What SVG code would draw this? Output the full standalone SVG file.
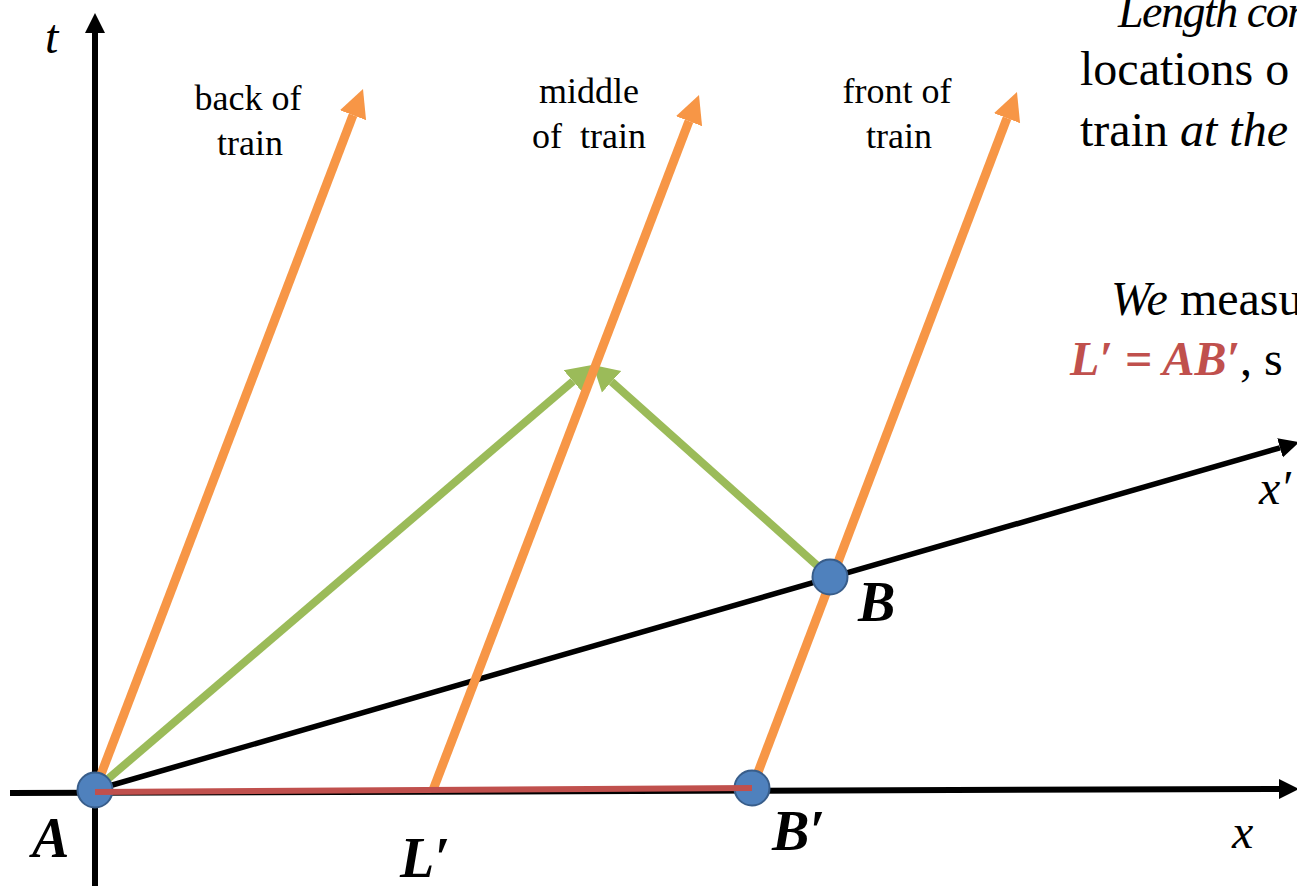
<svg xmlns="http://www.w3.org/2000/svg" width="1297" height="889" viewBox="0 0 1297 889" font-family="'Liberation Serif', 'Times New Roman', serif">
<style>
text, tspan{font-family:"Liberation Serif","Times New Roman",serif}
text{fill:#000}
.lbl{font-size:36px;text-anchor:middle}
.big{font-size:48px}
.it{font-style:italic}
.pt{font-size:56px;font-style:italic;font-weight:bold}
.red{fill:#C0504D;font-style:italic;font-weight:bold}
.axis{stroke:#000;stroke-width:6;fill:none}
.xp{stroke:#000;stroke-width:5.5;fill:none}
.wl{stroke:#F79646;stroke-width:9;fill:none}
.lt{stroke:#9BBB59;stroke-width:8;fill:none}
.len{stroke:#C0504D;stroke-width:6;fill:none}
.dot{fill:#4F81BD;stroke:#385D8A;stroke-width:2}
</style>
<defs>
<marker id="ab" markerUnits="userSpaceOnUse" markerWidth="22" markerHeight="22" viewBox="0 -11 22 22" refX="0" refY="0" orient="auto"><path d="M0,-10 L20,0 L0,10 z" fill="#000"/></marker>
<marker id="ao" markerUnits="userSpaceOnUse" markerWidth="30" markerHeight="30" viewBox="0 -15 30 30" refX="0" refY="0" orient="auto"><path d="M0,-14 L28,0 L0,14 z" fill="#F79646"/></marker>
<marker id="ag" markerUnits="userSpaceOnUse" markerWidth="27" markerHeight="31" viewBox="0 -15.5 27 31" refX="0" refY="0" orient="auto"><path d="M0,-14.5 L25,0 L0,14.5 z" fill="#9BBB59"/></marker>
</defs>
<g id="connectors">
<line id="t-axis" class="axis" x1="95" y1="886" x2="95" y2="33" marker-end="url(#ab)"/>
<line id="x-axis" class="axis" x1="10" y1="793" x2="1279" y2="789" marker-end="url(#ab)"/>
<line id="xprime-axis" class="xp" x1="95" y1="790" x2="1280" y2="447.8" marker-end="url(#ab)"/>
<line id="light-left" class="lt" x1="95" y1="790" x2="573" y2="381.2" marker-end="url(#ag)"/>
<line id="light-right" class="lt" x1="830" y1="577" x2="611.6" y2="381.7" marker-end="url(#ag)"/>
<line id="wl-back" class="wl" x1="95" y1="790" x2="353" y2="115.2" marker-end="url(#ao)"/>
<line id="wl-middle" class="wl" x1="433" y1="790" x2="689" y2="121.2" marker-end="url(#ao)"/>
<line id="wl-front" class="wl" x1="752" y1="788" x2="1007" y2="118.2" marker-end="url(#ao)"/>
</g>
<g id="node-A"><circle class="dot" cx="95" cy="790" r="17.5"/><text class="pt" x="32" y="857">A</text></g>
<g id="node-Bp"><circle class="dot" cx="752" cy="788" r="17.5"/><text class="pt" x="772" y="850">B′</text></g>
<g id="node-B"><circle class="dot" cx="830" cy="577" r="17.5"/><text class="pt" x="858" y="621">B</text></g>
<g id="length-Lp"><line class="len" x1="95" y1="792" x2="752" y2="788"/><text class="pt" x="400" y="877">L′</text></g>
<g id="axis-labels">
<text class="big it" x="45" y="53">t</text>
<text class="big it" x="1232" y="848">x</text>
<text class="big it" x="1259" y="504">x′</text>
</g>
<g id="worldline-labels">
<text class="lbl" x="248" y="110">back of</text>
<text class="lbl" x="250" y="155">train</text>
<text class="lbl" x="589" y="103">middle</text>
<text class="lbl" x="589" y="148" xml:space="preserve">of  train</text>
<text class="lbl" x="897" y="103">front of</text>
<text class="lbl" x="899" y="148">train</text>
</g>
<g id="note">
<text class="it" x="1118" y="27" font-size="46" letter-spacing="-1.5">Length con</text>
<text class="big" x="1080" y="85">locations o</text>
<text class="big" x="1080" y="146">train <tspan class="it">at the</tspan></text>
<text class="big" x="1111" y="315"><tspan class="it">We</tspan> measu</text>
<text class="big" x="1070" y="375"><tspan class="red">L′ = AB′</tspan>, s</text>
</g>
</svg>
